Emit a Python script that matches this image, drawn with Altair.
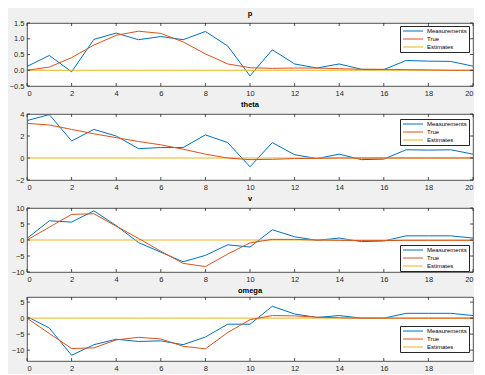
import altair as alt
import pandas as pd

steps = list(range(21))
series_names = ["Measurements", "True", "Estimates"]
series_colors = ["#0072BD", "#D95319", "#EDB120"]
draw_order = ["Measurements", "Estimates", "True"]

p_meas = [0.12, 0.47, -0.05, 0.98, 1.18, 0.97, 1.07, 0.97, 1.23, 0.77, -0.18, 0.65, 0.20, 0.07, 0.20, 0.03, 0.02, 0.31, 0.29, 0.28, 0.13]
p_true = [0.00, 0.10, 0.40, 0.80, 1.11, 1.24, 1.17, 0.90, 0.52, 0.20, 0.08, 0.06, 0.07, 0.07, 0.05, 0.03, 0.03, 0.02, 0.01, 0.00, 0.00]
p_est = [0.0] * 21

theta_meas = [3.40, 3.95, 1.55, 2.60, 2.00, 0.85, 0.95, 0.95, 2.10, 1.40, -0.80, 1.40, 0.30, -0.05, 0.35, -0.15, -0.10, 0.75, 0.72, 0.75, 0.35]
theta_true = [3.15, 3.00, 2.60, 2.20, 1.85, 1.50, 1.20, 0.80, 0.35, 0.00, -0.15, -0.12, -0.05, -0.03, 0.00, 0.00, 0.00, 0.00, 0.00, 0.00, 0.00]
theta_est = [0.0] * 21

v_meas = [0.5, 6.0, 5.6, 9.1, 4.5, -0.8, -3.8, -6.8, -4.8, -1.5, -2.2, 3.2, 1.0, -0.1, 0.6, -0.5, -0.3, 1.3, 1.3, 1.3, 0.6]
v_true = [0.0, 4.0, 8.0, 8.2, 4.3, 0.5, -3.5, -7.3, -8.3, -4.4, -0.9, 0.2, 0.2, 0.0, -0.1, -0.2, -0.2, -0.1, -0.1, -0.1, -0.1]
v_est = [0.0] * 21

omega_meas = [0.5, -3.1, -11.6, -8.3, -6.6, -7.3, -7.1, -8.3, -5.9, -1.9, -1.9, 3.7, 1.3, 0.2, 0.8, 0.0, 0.0, 1.5, 1.5, 1.5, 0.8]
omega_true = [0.0, -4.8, -9.5, -9.3, -6.8, -6.0, -6.5, -8.8, -9.6, -4.5, -0.5, 0.8, 0.7, 0.3, 0.1, 0.0, 0.0, 0.0, 0.0, 0.0, 0.0]
omega_est = [0.0] * 21

titles = ["p", "theta", "v", "omega"]
y_domains = [[-0.5, 1.5], [-2, 4], [-10, 10], [-13.4, 6.6]]
y_ticks = [[-0.5, 0, 0.5, 1, 1.5], [-2, 0, 2, 4], [-10, -5, 0, 5, 10], [-10, -5, 0, 5]]
x_ticks = [list(range(0, 21, 2))] * 3 + [list(range(0, 19, 2))]
heights = [63, 66, 64, 64]
legend_pos = [(373, 3), (373, 5), (373, 37), (373, 29)]
WIDTH = 446
FONT = "Liberation Sans"
AXC = "#262626"


def panel(i, meas, true, est):
    vals = {"Measurements": meas, "True": true, "Estimates": est}
    rows = []
    for name in draw_order:
        for k, v in zip(steps, vals[name]):
            rows.append({"k": k, "val": v, "series": name})
    df = pd.DataFrame(rows)
    H = heights[i]
    xs = alt.Scale(domain=[0, 20], nice=False, zero=False)
    ys = alt.Scale(domain=y_domains[i], nice=False, zero=False)
    xa = alt.Axis(values=x_ticks[i], title=None, labelPadding=3, minExtent=12, maxExtent=12)
    ya = alt.Axis(values=y_ticks[i], title=None, labelPadding=3, minExtent=16, maxExtent=16)
    lines = alt.Chart(df).mark_line(strokeWidth=1, clip=True).encode(
        x=alt.X("k:Q", scale=xs, axis=xa),
        y=alt.Y("val:Q", scale=ys, axis=ya),
        color=alt.Color("series:N", scale=alt.Scale(domain=series_names, range=series_colors),
                        legend=alt.Legend(title=None, orient="none",
                                          legendX=legend_pos[i][0], legendY=legend_pos[i][1],
                                          fillColor="white", strokeColor=AXC, padding=2,
                                          symbolType="M-1,0H9", symbolSize=16, symbolStrokeWidth=1,
                                          labelFontSize=6, labelFont=FONT, labelColor="black",
                                          rowPadding=2, labelOffset=19, cornerRadius=0)),
    )
    xt = pd.DataFrame({"k": x_ticks[i]})
    yt = pd.DataFrame({"val": y_ticks[i]})
    tick_style = dict(color=AXC, strokeWidth=0.8)
    xb = alt.Chart(xt).mark_rule(**tick_style).encode(
        x=alt.X("k:Q", scale=xs, axis=xa), y=alt.value(H), y2=alt.value(H - 3))
    xtp = alt.Chart(xt).mark_rule(**tick_style).encode(
        x=alt.X("k:Q", scale=xs, axis=xa), y=alt.value(0), y2=alt.value(3))
    yl = alt.Chart(yt).mark_rule(**tick_style).encode(
        y=alt.Y("val:Q", scale=ys, axis=ya), x=alt.value(0), x2=alt.value(3))
    yr = alt.Chart(yt).mark_rule(**tick_style).encode(
        y=alt.Y("val:Q", scale=ys, axis=ya), x=alt.value(WIDTH), x2=alt.value(WIDTH - 3))
    return alt.layer(lines, xb, xtp, yl, yr).properties(
        width=WIDTH, height=H,
        title=alt.Title(titles[i], fontSize=7.5, fontWeight="bold", font=FONT, color="black", offset=2),
    )


panels = [
    panel(0, p_meas, p_true, p_est),
    panel(1, theta_meas, theta_true, theta_est),
    panel(2, v_meas, v_true, v_est),
    panel(3, omega_meas, omega_true, omega_est),
]

chart = alt.vconcat(*panels, spacing=1).resolve_scale(color="independent").resolve_legend(
    color="independent"
).properties(
    background="#f0f0f0",
    padding={"left": 0, "top": 1, "right": 0, "bottom": 0},
).configure_view(
    fill="white", stroke=AXC, strokeWidth=0.8
).configure_axis(
    domain=False, ticks=False, tickSize=0, grid=False, labelFontSize=7.5, labelFont=FONT,
    labelColor=AXC
)

chart.save("out.html", embed_options={"renderer": "svg", "actions": False})
